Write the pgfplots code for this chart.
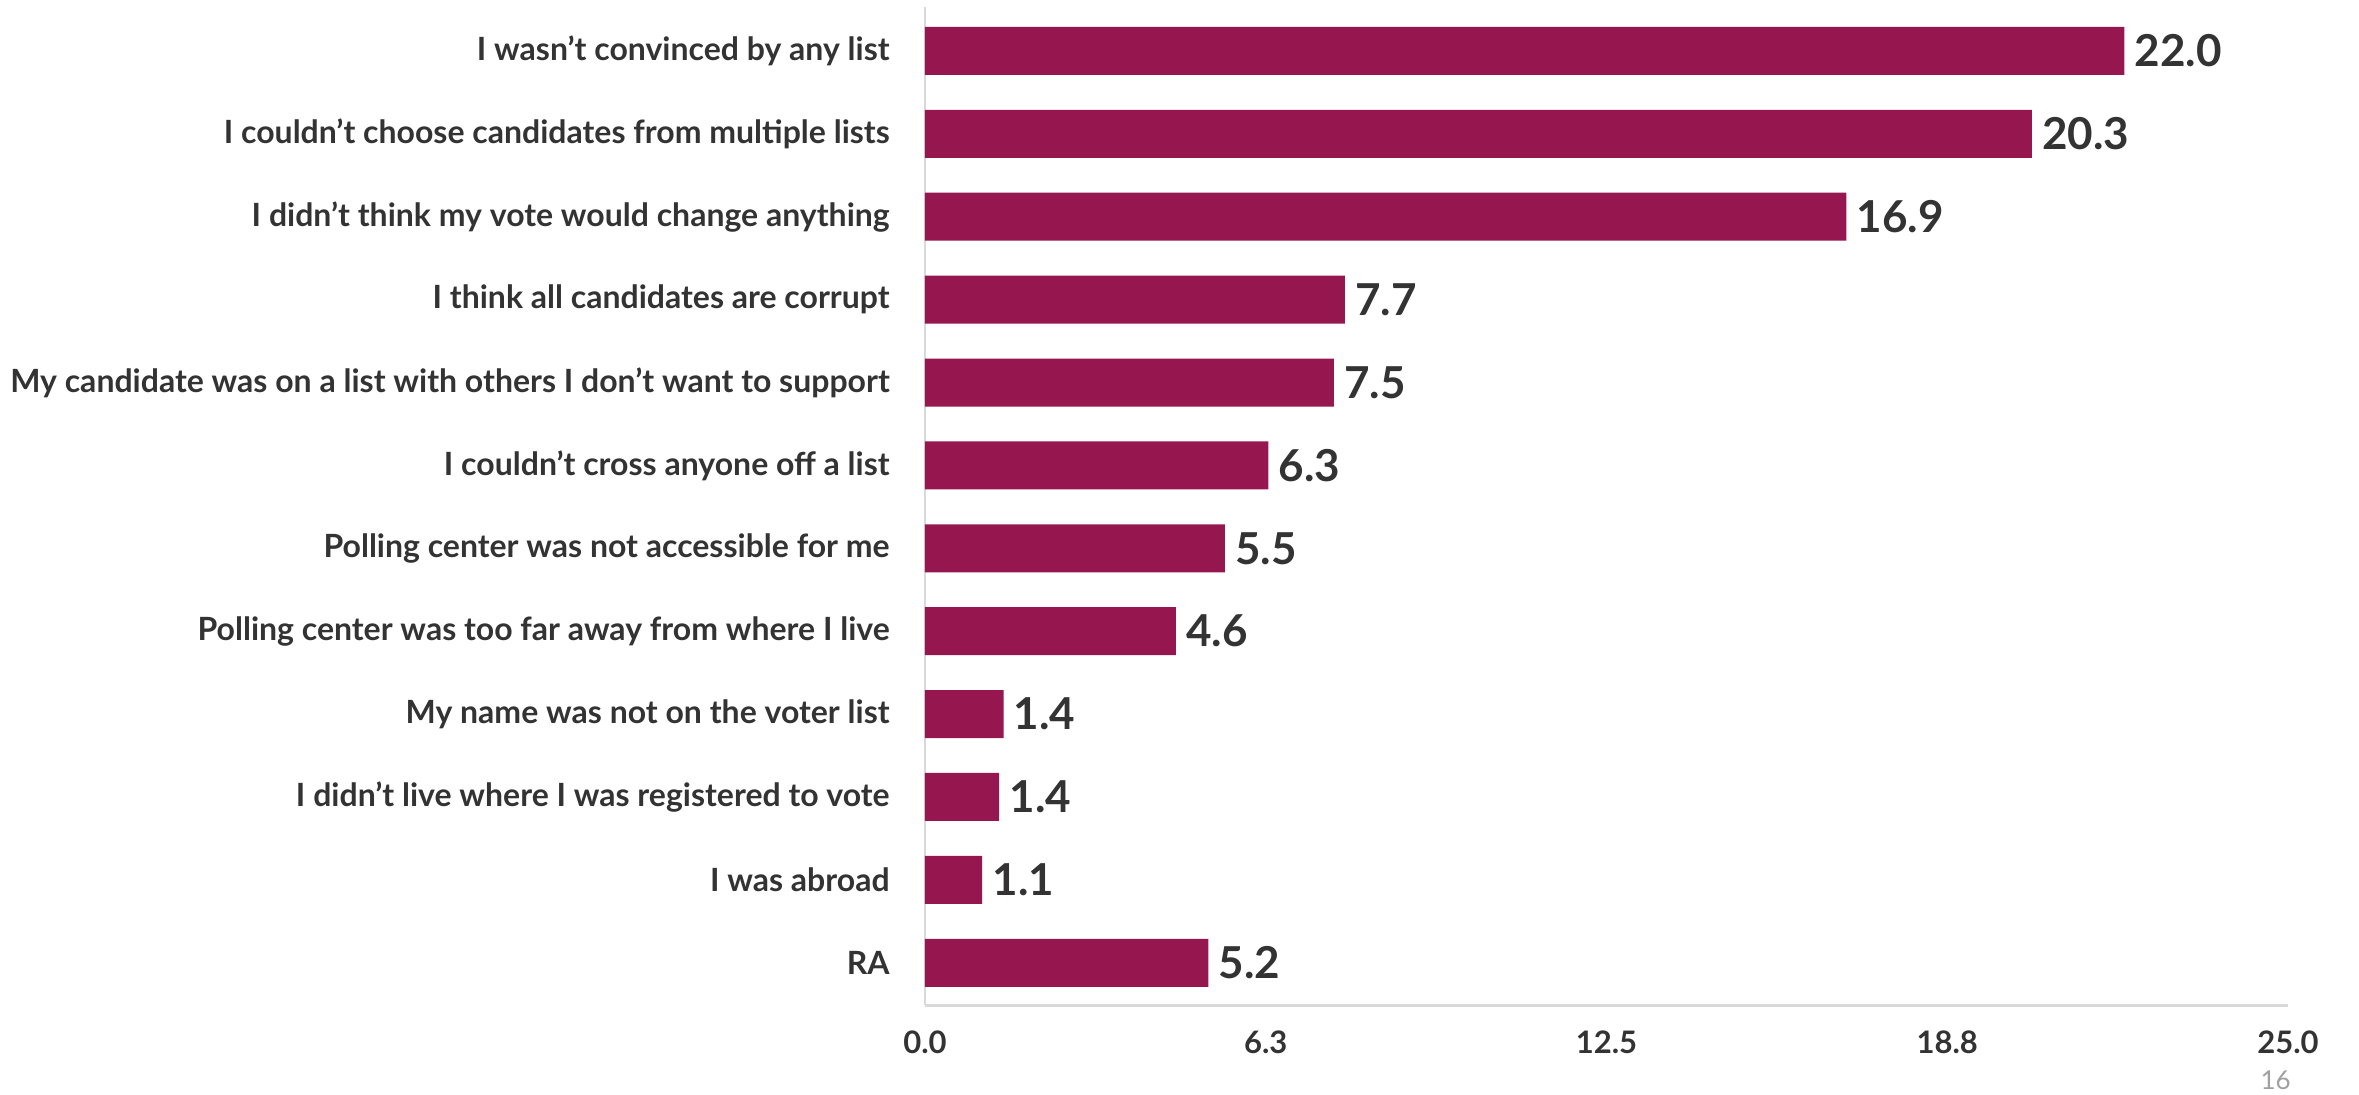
\documentclass[border=0pt]{standalone}
\usepackage{fontspec}
\setmainfont{Lato}
\usepackage{pgfplots}
\pgfplotsset{compat=1.18}
\definecolor{barc}{RGB}{150,22,80}
\definecolor{txt}{RGB}{51,51,51}
\definecolor{lineg}{RGB}{217,217,217}
\definecolor{pgnum}{RGB}{160,160,160}
\begin{document}
\begin{tikzpicture}
\useasboundingbox (-462.5pt,-44.5pt) rectangle (717pt,502.5pt);
\begin{axis}[
  at={(0,0)}, anchor=south west,
  scale only axis, width=681.5pt, height=499pt,
  xbar, bar width=24pt, bar shift=0pt,
  xmin=0, xmax=25, ymin=-0.53, ymax=11.51,
  y dir=reverse,
  axis x line*=bottom, axis y line*=left,
  x axis line style={draw=lineg, line width=1.5pt, -},
  y axis line style={draw=lineg, line width=1pt, -},
  major tick length=0pt,
  xtick={0,6.25,12.5,18.75,25},
  xticklabels={0.0,6.3,12.5,18.8,25.0},
  ytick={0,1,2,3,4,5,6,7,8,9,10,11},
  yticklabels={I wasn’t convinced by any list,
    I couldn’t choose candidates from multiple lists,
    I didn’t think my vote would change anything,
    I think all candidates are corrupt,
    My candidate was on a list with others I don’t want to support,
    I couldn’t cross anyone off a list,
    Polling center was not accessible for me,
    Polling center was too far away from where I live,
    My name was not on the voter list,
    I didn’t live where I was registered to vote,
    I was abroad,
    RA},
  yticklabel style={font=\bfseries\fontsize{16}{19}\selectfont, text=txt, inner sep=0pt, anchor=east, xshift=-17.5pt},
  xticklabel style={font=\bfseries\fontsize{15.5}{18}\selectfont, text=txt, inner sep=0pt, anchor=north, yshift=-12.5pt},
  point meta=explicit symbolic,
  nodes near coords,
  every node near coord/.append style={font=\bfseries\fontsize{22}{25}\selectfont, text=txt, anchor=west, inner sep=0pt, xshift=5pt},
  clip=false,
]
\addplot[draw=none, fill=barc] coordinates {
  (22.0,0) [22.0]
  (20.3,1) [20.3]
  (16.9,2) [16.9]
  (7.7,3) [7.7]
  (7.5,4) [7.5]
  (6.3,5) [6.3]
  (5.5,6) [5.5]
  (4.6,7) [4.6]
  (1.44,8) [1.4]
  (1.36,9) [1.4]
  (1.05,10) [1.1]
  (5.2,11) [5.2]
};
\node[font=\fontsize{13}{15}\selectfont, text=pgnum, inner sep=0pt] at (rel axis cs:0.991,0) [yshift=-37.5pt] {16};
\end{axis}
\end{tikzpicture}
\end{document}
